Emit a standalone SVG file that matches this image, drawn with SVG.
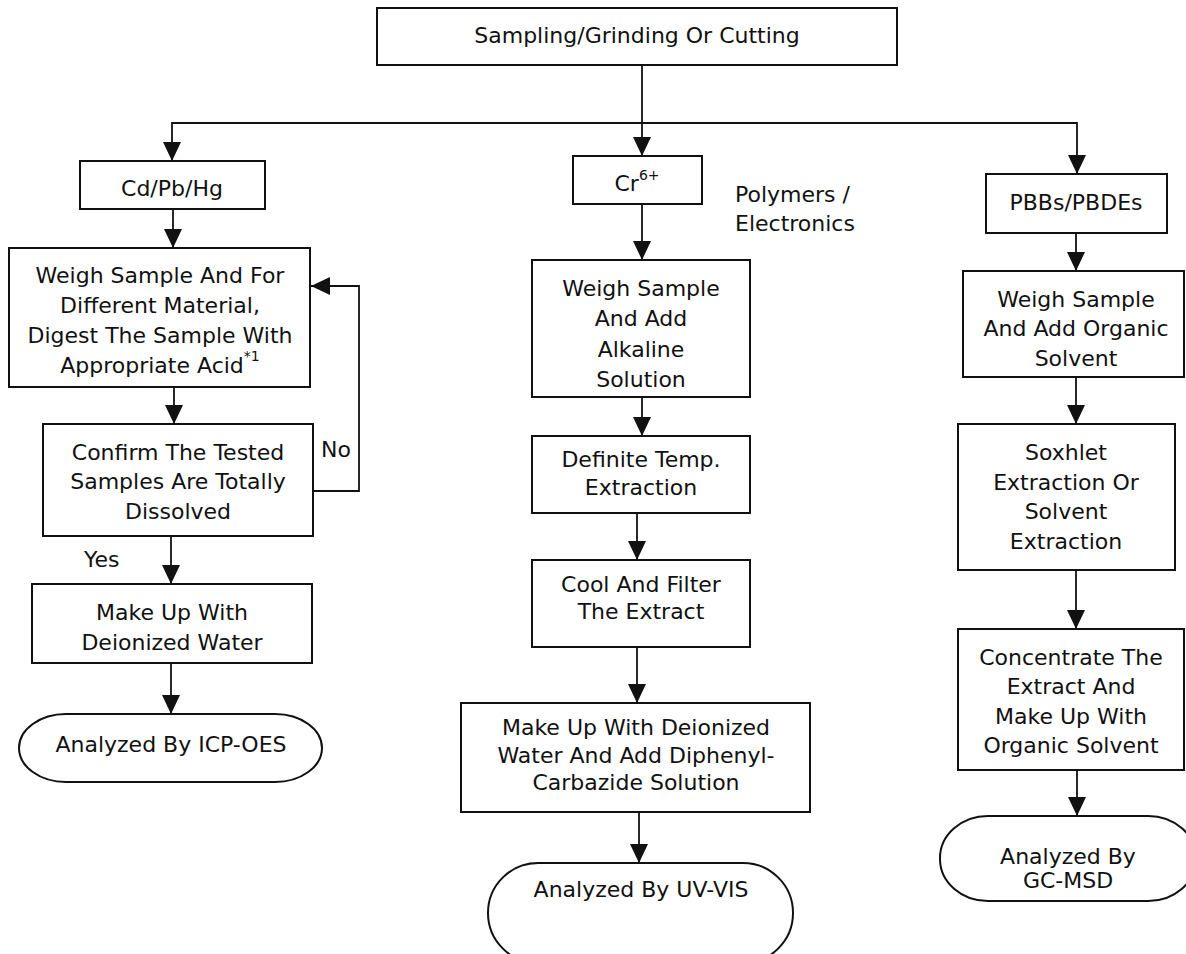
<svg xmlns="http://www.w3.org/2000/svg" width="1186" height="954" viewBox="0 0 1186 954">
<style>
.box{fill:#fff;stroke:#111;stroke-width:2}
.ln{fill:none;stroke:#111;stroke-width:1.8}
text{font-family:"DejaVu Sans","Liberation Sans",sans-serif;font-size:22px;fill:#111}
.c{text-anchor:middle}
</style>
<defs>
<marker id="ah" markerUnits="userSpaceOnUse" markerWidth="19" markerHeight="18" refX="19" refY="9" orient="auto">
<path d="M0,0 L19,9 L0,18 z" fill="#111"/>
</marker>
</defs>
<rect width="1186" height="954" fill="#fff"/>
<g id="connectors">
<path class="ln" d="M642,65 V156" marker-end="url(#ah)"/>
<path class="ln" d="M642,123 H172 V161" marker-end="url(#ah)"/>
<path class="ln" d="M642,123 H1077 V174" marker-end="url(#ah)"/>
<path class="ln" d="M173,209 V248" marker-end="url(#ah)"/>
<path class="ln" d="M174,387 V424" marker-end="url(#ah)"/>
<path class="ln" d="M171,536 V584" marker-end="url(#ah)"/>
<path class="ln" d="M171,663 V714" marker-end="url(#ah)"/>
<path class="ln" d="M313,491 H359 V286 H311" marker-end="url(#ah)"/>
<path class="ln" d="M642,204 V260" marker-end="url(#ah)"/>
<path class="ln" d="M642,397 V436" marker-end="url(#ah)"/>
<path class="ln" d="M637,513 V560" marker-end="url(#ah)"/>
<path class="ln" d="M637,647 V703" marker-end="url(#ah)"/>
<path class="ln" d="M639,812 V863" marker-end="url(#ah)"/>
<path class="ln" d="M1076,233 V271" marker-end="url(#ah)"/>
<path class="ln" d="M1076,377 V424" marker-end="url(#ah)"/>
<path class="ln" d="M1076,570 V629" marker-end="url(#ah)"/>
<path class="ln" d="M1077,770 V816" marker-end="url(#ah)"/>
<text x="321" y="457">No</text>
<text x="84" y="567">Yes</text>
</g>
<g id="title">
<rect class="box" x="377" y="8" width="520" height="57"/>
<text class="c" x="637" y="43">Sampling/Grinding Or Cutting</text>
</g>
<g id="cdpbhg">
<rect class="box" x="80" y="161" width="185" height="48"/>
<text class="c" x="172" y="196">Cd/Pb/Hg</text>
</g>
<g id="weigh-acid">
<rect class="box" x="9" y="248" width="301" height="139"/>
<text class="c" x="160" y="283">Weigh Sample And For</text>
<text class="c" x="160" y="313">Different Material,</text>
<text class="c" x="160" y="343">Digest The Sample With</text>
<text class="c" x="160" y="373">Appropriate Acid<tspan dy="-12" font-size="14">*1</tspan></text>
</g>
<g id="confirm">
<rect class="box" x="43" y="424" width="270" height="112"/>
<text class="c" x="178" y="460">Confirm The Tested</text>
<text class="c" x="178" y="489">Samples Are Totally</text>
<text class="c" x="178" y="519">Dissolved</text>
</g>
<g id="makeup-left">
<rect class="box" x="32" y="584" width="280" height="79"/>
<text class="c" x="172" y="620">Make Up With</text>
<text class="c" x="172" y="650">Deionized Water</text>
</g>
<g id="icp">
<rect class="box" x="19" y="714" width="303" height="68" rx="47" ry="34"/>
<text class="c" x="171" y="752">Analyzed By ICP-OES</text>
</g>
<g id="cr6">
<rect class="box" x="573" y="156" width="129" height="48"/>
<text class="c" x="637" y="191">Cr<tspan dy="-11" font-size="14">6+</tspan></text>
</g>
<g id="polymers">
<text x="735" y="202">Polymers /</text>
<text x="735" y="231">Electronics</text>
</g>
<g id="weigh-alkaline">
<rect class="box" x="532" y="260" width="218" height="137"/>
<text class="c" x="641" y="296">Weigh Sample</text>
<text class="c" x="641" y="326">And Add</text>
<text class="c" x="641" y="357">Alkaline</text>
<text class="c" x="641" y="387">Solution</text>
</g>
<g id="definite">
<rect class="box" x="532" y="436" width="218" height="77"/>
<text class="c" x="641" y="467">Definite Temp.</text>
<text class="c" x="641" y="495">Extraction</text>
</g>
<g id="cool">
<rect class="box" x="532" y="560" width="218" height="87"/>
<text class="c" x="641" y="592">Cool And Filter</text>
<text class="c" x="641" y="619">The Extract</text>
</g>
<g id="makeup-mid">
<rect class="box" x="461" y="703" width="349" height="109"/>
<text class="c" x="636" y="735">Make Up With Deionized</text>
<text class="c" x="636" y="763">Water And Add Diphenyl-</text>
<text class="c" x="636" y="790">Carbazide Solution</text>
</g>
<g id="uvvis">
<rect class="box" x="488" y="863" width="305" height="100" rx="50" ry="50"/>
<text class="c" x="641" y="897">Analyzed By UV-VIS</text>
</g>
<g id="pbbs">
<rect class="box" x="986" y="174" width="181" height="59"/>
<text class="c" x="1076" y="210">PBBs/PBDEs</text>
</g>
<g id="weigh-organic">
<rect class="box" x="963" y="271" width="221" height="106"/>
<text class="c" x="1076" y="307">Weigh Sample</text>
<text class="c" x="1076" y="336">And Add Organic</text>
<text class="c" x="1076" y="366">Solvent</text>
</g>
<g id="soxhlet">
<rect class="box" x="958" y="424" width="217" height="146"/>
<text class="c" x="1066" y="460">Soxhlet</text>
<text class="c" x="1066" y="490">Extraction Or</text>
<text class="c" x="1066" y="519">Solvent</text>
<text class="c" x="1066" y="549">Extraction</text>
</g>
<g id="concentrate">
<rect class="box" x="958" y="629" width="226" height="141"/>
<text class="c" x="1071" y="665">Concentrate The</text>
<text class="c" x="1071" y="694">Extract And</text>
<text class="c" x="1071" y="724">Make Up With</text>
<text class="c" x="1071" y="753">Organic Solvent</text>
</g>
<g id="gcmsd">
<rect class="box" x="940" y="816" width="256" height="85" rx="48" ry="42"/>
<text class="c" x="1068" y="864">Analyzed By</text>
<text class="c" x="1068" y="888">GC-MSD</text>
</g>
</svg>
